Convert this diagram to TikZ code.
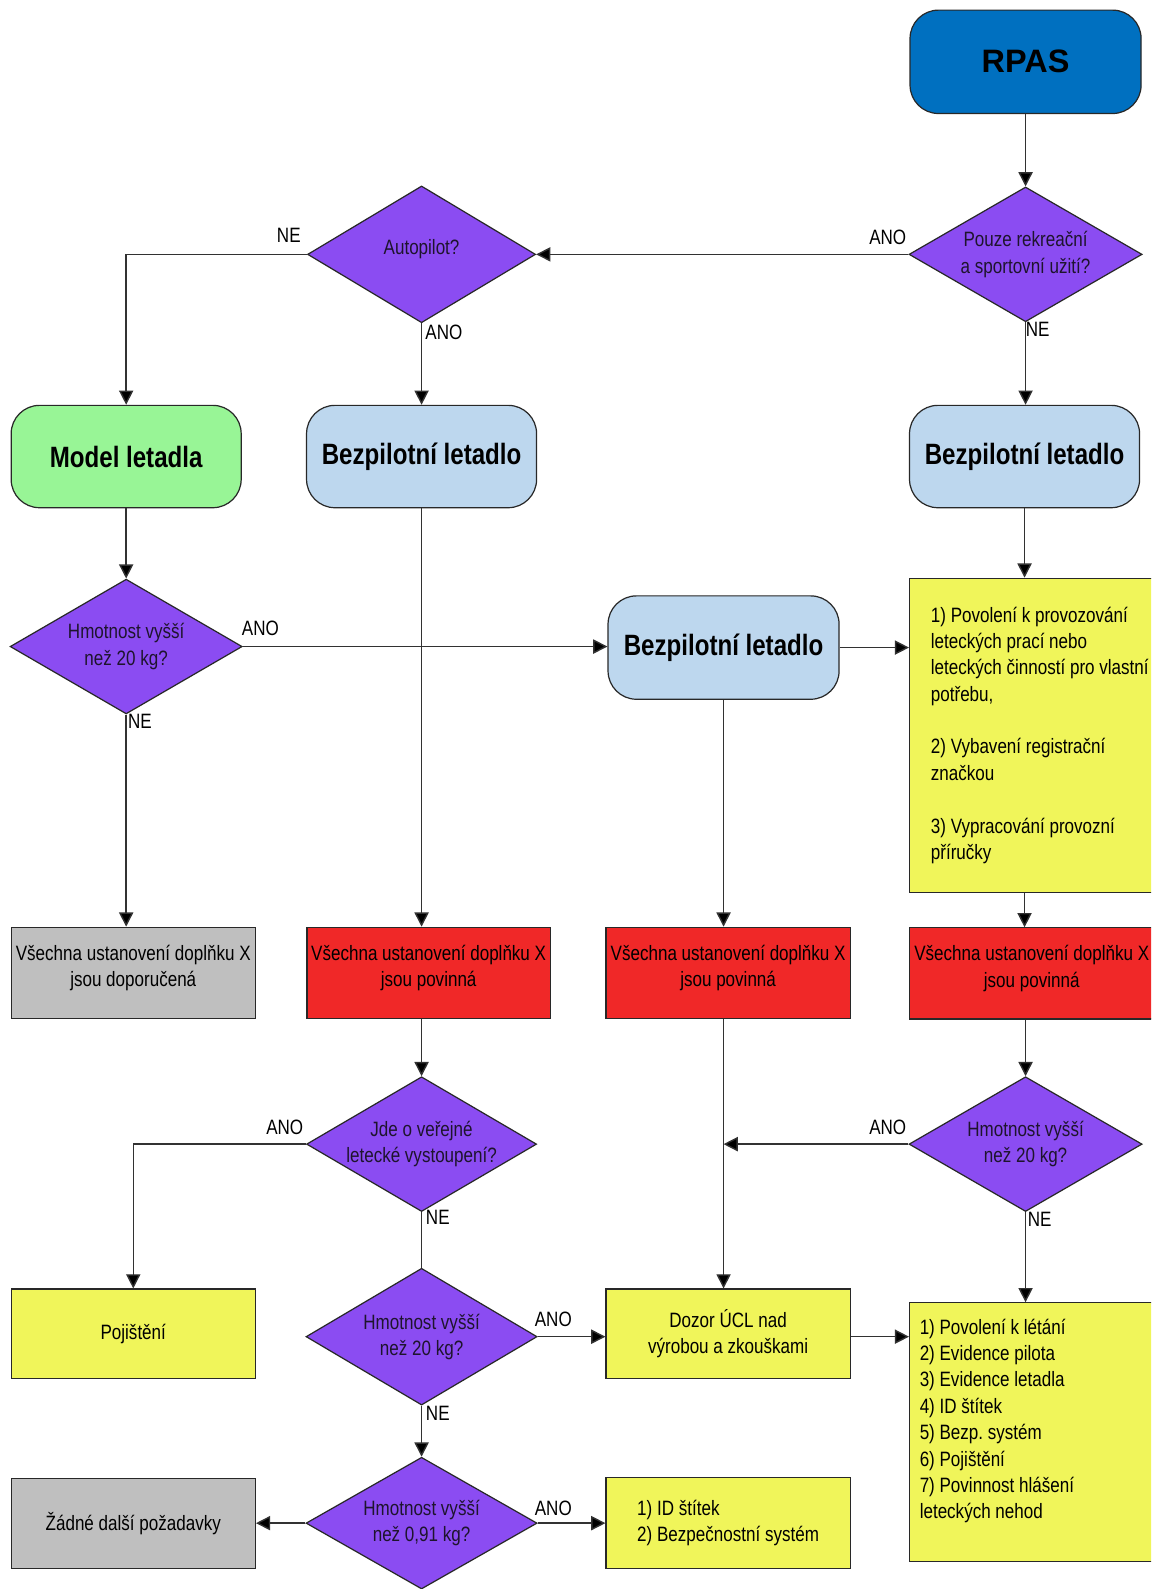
\documentclass[tikz,border=0pt]{standalone}
\usepackage{fontspec}
\setmainfont{Liberation Sans}[FakeStretch=0.82]
\newfontfamily\rpasfont{Liberation Sans}
\usetikzlibrary{arrows.meta,shapes.geometric}
\definecolor{cblue}{RGB}{0,112,192}
\definecolor{cpurple}{RGB}{139,76,242}
\definecolor{clight}{RGB}{189,215,238}
\definecolor{cgreen}{RGB}{152,245,150}
\definecolor{cgray}{RGB}{191,191,191}
\definecolor{cred}{RGB}{240,40,40}
\definecolor{cyellow}{RGB}{240,245,90}
\definecolor{cline}{RGB}{50,50,50}
\definecolor{cborder}{RGB}{40,40,40}
\definecolor{ctext}{RGB}{30,20,45}
\tikzset{
  txt/.style={font=\fontsize{20.5}{26}\selectfont\frenchspacing},
  rbox/.style={draw=cborder, line width=1.2pt, rounded corners=28pt, minimum width=227pt, minimum height=101pt, inner sep=0pt, font=\fontsize{29}{34}\selectfont\bfseries},
  sbox/.style={draw=cborder, line width=1.2pt, inner sep=0pt, minimum height=90pt, minimum width=241pt, align=center, txt},
  dec/.style={diamond, aspect=1.7, draw=cborder, line width=1.2pt, fill=cpurple, inner sep=0pt, minimum width=228pt, minimum height=133pt, align=center, txt, text=ctext},
  conn/.style={draw=cline, line width=1.4pt},
  arr/.style={conn, -{Triangle[length=14pt,width=14pt,fill=black]}},
  lbl/.style={txt, inner sep=0pt, text=black},
}
\begin{document}
\begin{tikzpicture}[x=1pt,y=-1pt]
\useasboundingbox (0,0) rectangle (1136,1568);
\clip (0,0) rectangle (1136,1568);
\fill[white] (0,0) rectangle (1136,1568);

% nodes
\node[rbox, fill=cblue, minimum width=228pt, minimum height=102pt, font=\rpasfont\fontsize{32}{38}\selectfont\bfseries] (rpas) at (1012,61) {RPAS};
\node[dec, minimum width=230pt] (d1) at (1012,251) {Pouze rekreační\\a sportovní užití?};
\node[dec, minimum width=225pt, minimum height=135pt, text depth=14pt] (auto) at (416,251) {Autopilot?};
\node[rbox, fill=cgreen] (model) at (124.5,450.5) {Model letadla};
\node[rbox, fill=clight] (bez2) at (416,450.5) {Bezpilotní letadlo};
\node[rbox, fill=clight] (bez4) at (1011,450.5) {Bezpilotní letadlo};
\node[dec, minimum width=229pt] (hm1) at (124.5,638) {Hmotnost vyšší\\než 20 kg?};
\node[rbox, fill=clight, minimum width=228pt, minimum height=102pt] (bezc) at (714,639) {Bezpilotní letadlo};
\node[sbox, fill=cyellow, anchor=north west, minimum height=310pt, text width=260pt, inner xsep=21pt, align=flush left] (yel1) at (897,570)
  {1) Povolení k provozování\\leteckých prací nebo\\leteckých činností pro vlastní\\potřebu,\\[26pt]2) Vybavení registrační\\značkou\\[26pt]3) Vypracování provozní\\příručky};
\node[sbox, fill=cgray, text depth=14pt] (gray1) at (131.5,960) {Všechna ustanovení doplňku X\\jsou doporučená};
\node[sbox, fill=cred, minimum width=240pt, text depth=14pt] (red2) at (423,960) {Všechna ustanovení doplňku X\\jsou povinná};
\node[sbox, fill=cred, text depth=14pt] (red3) at (718.5,960) {Všechna ustanovení doplňku X\\jsou povinná};
\node[sbox, fill=cred, anchor=north west, text depth=14pt] (red4) at (897,915) {Všechna ustanovení doplňku X\\jsou povinná};
\node[dec, minimum width=227pt] (jde) at (416,1129) {Jde o veřejné\\letecké vystoupení?};
\node[dec, minimum width=230pt] (hm4) at (1012,1129) {Hmotnost vyšší\\než 20 kg?};
\node[sbox, fill=cyellow, minimum height=88pt] (poj) at (131.5,1316) {Pojištění};
\node[dec, minimum height=135pt] (hm2) at (416,1319) {Hmotnost vyšší\\než 20 kg?};
\node[sbox, fill=cyellow, minimum height=88pt] (dozor) at (718.5,1316) {Dozor ÚCL nad\\výrobou a zkouškami};
\node[sbox, fill=cyellow, anchor=north west, minimum height=255pt, text width=240pt, inner xsep=10pt, align=flush left] (yel2) at (897,1285)
  {1) Povolení k létání\\2) Evidence pilota\\3) Evidence letadla\\4) ID štítek\\5) Bezp. systém\\6) Pojištění\\7) Povinnost hlášení\\leteckých nehod\\\mbox{}};
\node[dec, minimum height=130pt] (hm3) at (416,1503) {Hmotnost vyšší\\než 0,91 kg?};
\node[sbox, fill=cgray, minimum height=89pt] (zadne) at (131.5,1503.5) {Žádné další požadavky};
\node[sbox, fill=cyellow, align=left] (idb) at (718.5,1503) {1) ID štítek\\2) Bezpečnostní systém};

% connectors
\draw[arr] (rpas.south) -- (d1.north);
\draw[arr] (d1.west) -- (auto.east);
\draw[arr] (auto.west) -| (model.north);
\draw[arr] (auto.south) -- (bez2.north);
\draw[arr] (d1.south) -- (d1.south |- bez4.north);
\draw[arr] (model.south) -- (hm1.north);
\draw[arr] (hm1.east) -- (hm1.east -| bezc.west);
\draw[arr] (bezc.east) -- (bezc.east -| yel1.west);
\draw[arr] (bez4.south) -- (bez4.south |- yel1.north);
\draw[arr] (hm1.south) -- (hm1.south |- gray1.north);
\draw[arr] (bez2.south) -- (bez2.south |- red2.north);
\draw[arr] (bezc.south) -- (bezc.south |- red3.north);
\draw[arr] (bez4.south |- yel1.south) -- (bez4.south |- red4.north);
\draw[arr] (jde.north |- red2.south) -- (jde.north);
\draw[arr] (jde.west) -| (poj.north);
\draw[conn] (jde.south) -- (hm2.north);
\draw[arr] (hm2.east) -- (hm2.east -| dozor.west);
\draw[arr] (hm2.south) -- (hm3.north);
\draw[arr] (hm3.west) -- (hm3.west -| zadne.east);
\draw[arr] (hm3.east) -- (hm3.east -| idb.west);
\draw[arr] (bezc.south |- red3.south) -- (bezc.south |- dozor.north);
\draw[arr] (hm4.north |- red4.south) -- (hm4.north);
\draw[arr] (hm4.west) -- (hm4.west -| bezc.south);
\draw[arr] (hm4.south) -- (hm4.south |- yel2.north);
\draw[arr] (dozor.east |- hm2.east) -- (hm2.east -| yel2.west);

% labels
\node[lbl] (l1) at (876,234) {ANO};
\node[lbl] (l2) at (285,232) {NE};
\node[lbl] (l3) at (438,328) {ANO};
\node[lbl] (l4) at (1024,325) {NE};
\node[lbl] (l5) at (257,620) {ANO};
\node[lbl] (l6) at (138,712) {NE};
\node[lbl] (l7) at (281,1112) {ANO};
\node[lbl] (l8) at (432,1201) {NE};
\node[lbl] (l9) at (546,1302) {ANO};
\node[lbl] (l10) at (432,1395) {NE};
\node[lbl] (l11) at (546,1488) {ANO};
\node[lbl] (l12) at (876,1112) {ANO};
\node[lbl] (l13) at (1026,1203) {NE};
\end{tikzpicture}
\end{document}
